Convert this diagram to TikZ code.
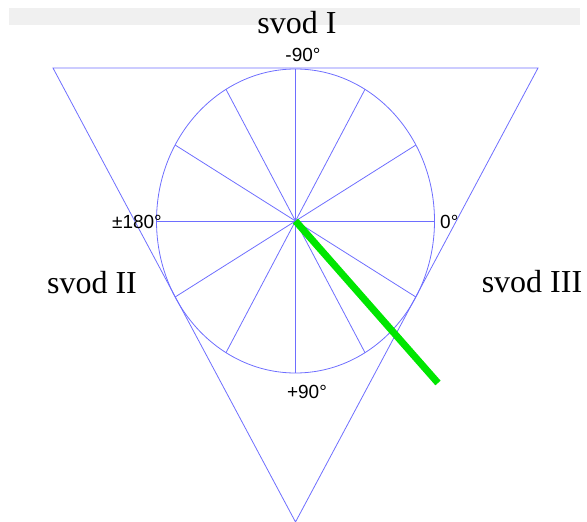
\documentclass[tikz,border=0pt]{standalone}
\usepackage{fontspec}
\setmainfont{Liberation Serif}
\newfontfamily\uhelfont{Liberation Sans}
\usetikzlibrary{calc}
\definecolor{modrals}{RGB}{110,110,255}
\definecolor{zelenals}{RGB}{0,230,0}
\definecolor{sedals}{RGB}{240,240,240}

\begin{document}
\begin{tikzpicture}[x=1pt, y=-1pt, font=\uhelfont\fontsize{19}{21}\selectfont]
    \useasboundingbox (0,0) rectangle (587,522);
    \fill[sedals] (9,8) rectangle (580,25);
    \coordinate (stred) at (295.5,221);
    \coordinate (konec) at (438,383);
    \draw[modrals, line width=0.8pt] (53,68) -- (538,68) -- (295.5,522) -- cycle;
    \draw[modrals, line width=0.8pt] (stred) ellipse [x radius=139, y radius=152];
    \foreach \a in {0,30,...,330}
        \draw[modrals, line width=0.8pt] (stred) -- ($(stred)+(\a:139 and 152)$);
    \draw[zelenals, line width=7pt] (stred) -- (konec);
    \node[inner sep=0pt] (u90) at (303,55) {-90°};
    \node[inner sep=0pt, anchor=east] (u180) at (162,222) {±180°};
    \node[inner sep=0pt, anchor=west] (u0) at (440,222) {0°};
    \node[inner sep=0pt] (u270) at (307,392) {+90°};
    \node[inner sep=0pt, anchor=base, font=\rmfamily\fontsize{32}{36}\selectfont] (svod1) at (297,33) {svod I};
    \node[inner sep=0pt, anchor=base, font=\rmfamily\fontsize{32}{36}\selectfont] (svod2) at (92,293) {svod II};
    \node[inner sep=0pt, anchor=base, font=\rmfamily\fontsize{32}{36}\selectfont] (svod3) at (532,292) {svod III};
\end{tikzpicture}
\end{document}
